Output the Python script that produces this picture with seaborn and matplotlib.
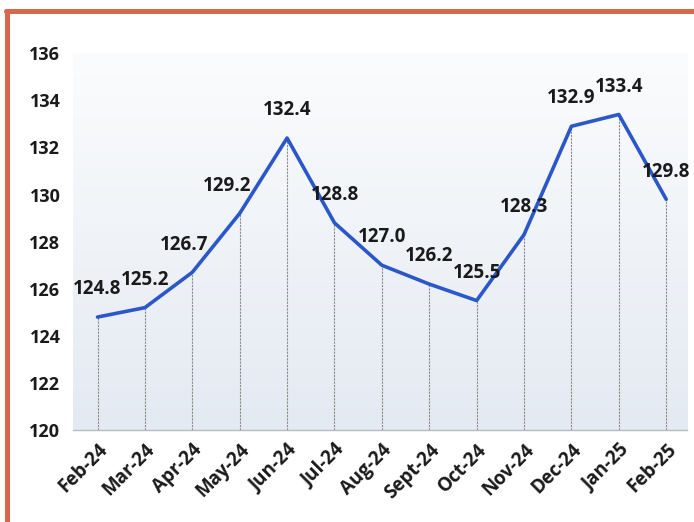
import numpy as np
import pandas as pd
import matplotlib
matplotlib.use("Agg")
import matplotlib.pyplot as plt
import seaborn as sns
from matplotlib.lines import Line2D

months = ["Feb-24", "Mar-24", "Apr-24", "May-24", "Jun-24", "Jul-24", "Aug-24",
          "Sept-24", "Oct-24", "Nov-24", "Dec-24", "Jan-25", "Feb-25"]
values = [124.8, 125.2, 126.7, 129.2, 132.4, 128.8, 127.0,
          126.2, 125.5, 128.3, 132.9, 133.4, 129.8]
y_ticks = [120, 122, 124, 126, 128, 130, 132, 134, 136]

sns.set_theme(style="white")
plt.rcParams['font.family'] = ['Open Sans', 'DejaVu Sans']

df = pd.DataFrame({"mese": months, "valore": values})
pos = np.arange(len(months))

fig = plt.figure(figsize=(6.94, 5.22), dpi=100)
ax = fig.add_axes([0.105, 0.176, 0.885, 0.722])

# sfondo sfumato
grad = np.linspace(0, 1, 256).reshape(-1, 1)
ax.imshow(grad, extent=[-0.52, 12.44, 120, 136], aspect='auto', origin='upper',
          cmap=matplotlib.colors.LinearSegmentedColormap.from_list(
              "bg", ["#fbfcfd", "#e4eaf2"]), zorder=0)

# linee verticali dai punti all'asse
ax.vlines(pos, 120, values, color="#8a8a8a", lw=0.8, linestyles=(0, (2, 1)), zorder=1)

sns.lineplot(data=df, x=pos, y="valore", color="#2a57c9", lw=2.6, ax=ax,
             sort=False, zorder=3)

# spostamento orizzontale di alcune etichette (come nell'originale)
sposta_x = [0, 0, -6, -9, 0, 0, 0, 0, 0, 0, 0, 0, 0]
for x, v, dx in zip(pos, values, sposta_x):
    ax.annotate(f"{v:.1f}", (x, v), xytext=(dx, 20), textcoords="offset points",
                ha="center", va="center", fontsize=13.5, fontweight="bold",
                color="#1a1a1a", zorder=4)

ax.set_xlim(-0.52, 12.44)
ax.set_ylim(120, 136)
ax.set_yticks(y_ticks)
ax.set_yticklabels([str(t) for t in y_ticks], fontsize=13, fontweight="bold",
                   color="#1a1a1a")
ax.set_xticks(pos)
ax.set_xticklabels(months, rotation=45, ha="right", rotation_mode="anchor",
                   fontsize=13.5, fontweight="bold", color="#1a1a1a")
ax.tick_params(axis="y", length=0, pad=9)
ax.tick_params(axis="x", length=0, pad=7)
ax.set_xlabel("")
ax.set_ylabel("")
for s in ["top", "right", "left"]:
    ax.spines[s].set_visible(False)
ax.spines["bottom"].set_color("#b8bcc2")
ax.spines["bottom"].set_linewidth(1.0)

# cornice
fig.add_artist(Line2D([0.008, 1.0], [0.978, 0.978], color="#d8674c", lw=3.6,
                      transform=fig.transFigure))
fig.add_artist(Line2D([0.010, 0.010], [0.0, 0.978], color="#d8674c", lw=3.6,
                      transform=fig.transFigure))

fig.savefig("out.png", dpi=100)
plt.close(fig)
